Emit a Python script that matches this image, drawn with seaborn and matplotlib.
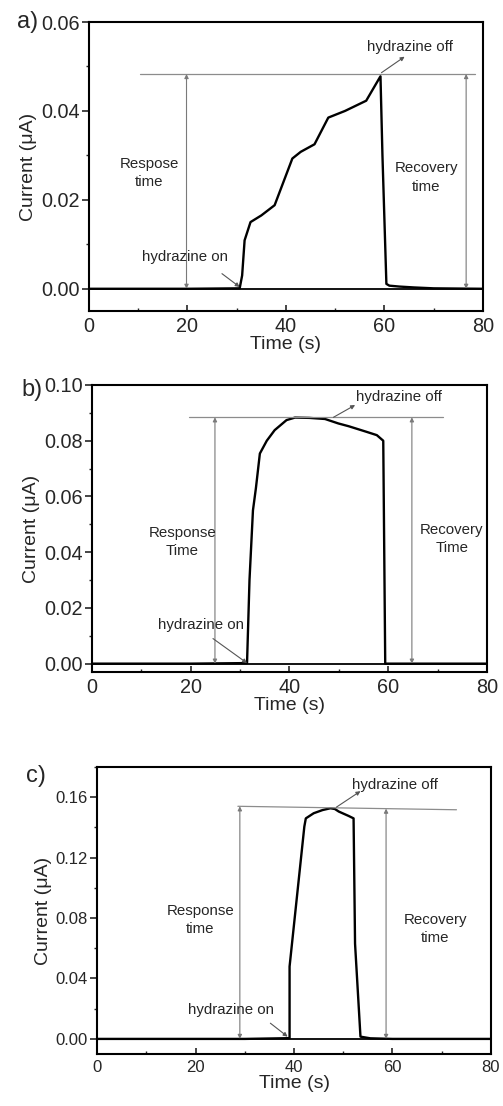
import numpy as np
import pandas as pd
import matplotlib
matplotlib.use('Agg')
import matplotlib.pyplot as plt
import seaborn as sns
from matplotlib.ticker import MultipleLocator, FormatStrFormatter

# panel a) current vs time
time_a = [0, 10, 20, 30.6, 31.1, 31.6, 32.8, 35.0, 37.7, 41.3, 43.0, 45.8, 48.6, 52.0, 56.3, 59.2,
          59.6, 60.4, 61.0, 63.0, 66.0, 70.0, 80.0]
curr_a = [0, 0, 0, 0.0001, 0.003, 0.0109, 0.0150, 0.0165, 0.0188, 0.0293, 0.0308, 0.0325, 0.0385,
          0.0400, 0.0423, 0.0478, 0.0300, 0.0011, 0.0007, 0.0005, 0.0003, 0.0001, 0.0]

# panel b)
time_b = [0, 10, 20, 31.4, 31.9, 32.6, 33.2, 34.0, 35.4, 37.0, 39.4, 41.1, 44.0, 47.2, 49.9,
          52.0, 55.6, 57.7, 59.0, 59.4, 60.0, 70.0, 80.0]
curr_b = [0, 0, 0, 0.0002, 0.030, 0.055, 0.063, 0.0754, 0.0800, 0.0838, 0.0874, 0.0883, 0.0882,
          0.0878, 0.0862, 0.0852, 0.0832, 0.0820, 0.0800, 0.0, 0.0, 0.0, 0.0]

# panel c)
time_c = [0, 10, 20, 30, 39.1, 39.1, 42.1, 42.4, 44.0, 45.8, 47.4, 48.3, 49.1, 51.1, 52.1, 52.4,
          53.5, 55.5, 60.0, 70.0, 80.0]
curr_c = [0, 0, 0, 0, 0.0005, 0.0479, 0.1406, 0.1460, 0.1494, 0.1515, 0.1527, 0.1522, 0.1505,
          0.1476, 0.1460, 0.0630, 0.0015, 0.0004, 0.0, 0.0, 0.0]

# annotation values
level_a = [10.3, 78.5, 0.0483, 0.0483]      # x0, x1, y0, y1 of grey guide line
arrows_a = [19.8, 76.6]
level_b = [19.6, 71.1, 0.0884, 0.0884]
arrows_b = [24.9, 64.8]
level_c = [28.6, 73.0, 0.1540, 0.1517]
arrows_c = [29.0, 58.7]

sns.set_style('ticks')
plt.rcParams['font.family'] = ['Liberation Sans', 'DejaVu Sans']

fig = plt.figure(figsize=(5.03, 11.06), dpi=100)
ax_a = fig.add_axes([0.177, 0.7188, 0.783, 0.2613])
ax_b = fig.add_axes([0.183, 0.3924, 0.785, 0.2595])
ax_c = fig.add_axes([0.193, 0.0470, 0.783, 0.2595])

ann_fs = 10.8
txt_col = '#262626'

panels = [
    (ax_a, time_a, curr_a, level_a, arrows_a, (-0.005, 0.06), 0.02, 0.01, 14.3,
     ('Respose\ntime', 12.2, 0.026), ('Recovery\ntime', 68.5, 0.025),
     ('hydrazine on', 19.5, 0.0071, 27.0, 0.0034, 30.6, 0.0004),
     ('hydrazine off', 65.1, 0.0544, 59.4, 0.0486, 64.1, 0.0522)),
    (ax_b, time_b, curr_b, level_b, arrows_b, (-0.003, 0.10), 0.02, 0.01, 14.3,
     ('Response\nTime', 18.3, 0.0437), ('Recovery\nTime', 72.9, 0.0447),
     ('hydrazine on', 22.0, 0.0138, 24.5, 0.0090, 31.4, 0.0002),
     ('hydrazine off', 62.1, 0.0956, 48.9, 0.0884, 53.3, 0.0928)),
    (ax_c, time_c, curr_c, level_c, arrows_c, (-0.01, 0.18), 0.04, 0.02, 12,
     ('Response\ntime', 21.0, 0.0788), ('Recovery\ntime', 68.7, 0.0726),
     ('hydrazine on', 27.3, 0.0192, 35.2, 0.0104, 38.7, 0.0015),
     ('hydrazine off', 60.6, 0.1680, 48.6, 0.1534, 53.5, 0.1640)),
]

for (ax, t, c, lvl, arr, ylim, ymaj, ymin, fs, resp, reco, on, off) in panels:
    df = pd.DataFrame({'Time': t, 'Current': c})
    sns.lineplot(data=df, x='Time', y='Current', ax=ax, color='black', lw=1.7,
                 sort=False, estimator=None)
    ax.axhline(0, color='black', lw=1.3, zorder=1)

    # grey guide line and the two double arrows
    ax.plot(lvl[:2], lvl[2:], color='#8c8c8c', lw=0.9)
    for xa in arr:
        ytop = np.interp(xa, lvl[:2], lvl[2:])
        ax.annotate('', xy=(xa, 0), xytext=(xa, ytop),
                    arrowprops=dict(arrowstyle='<|-|>', color='#7a7a7a', lw=0.8,
                                    mutation_scale=6, shrinkA=0, shrinkB=0))

    for lab in (resp, reco):
        ax.text(lab[1], lab[2], lab[0], ha='center', va='center', fontsize=ann_fs,
                color=txt_col, linespacing=1.4)
    for lab in (on, off):
        ax.text(lab[1], lab[2], lab[0], ha='center', va='center', fontsize=ann_fs, color=txt_col)
        ax.annotate('', xy=(lab[5], lab[6]), xytext=(lab[3], lab[4]),
                    arrowprops=dict(arrowstyle='-|>', color='#555555', lw=0.8,
                                    mutation_scale=6, shrinkA=0, shrinkB=0))

    ax.set_xlim(0, 80)
    ax.set_ylim(*ylim)
    ax.xaxis.set_major_locator(MultipleLocator(20))
    ax.xaxis.set_minor_locator(MultipleLocator(10))
    ax.yaxis.set_major_locator(MultipleLocator(ymaj))
    ax.yaxis.set_minor_locator(MultipleLocator(ymin))
    ax.yaxis.set_major_formatter(FormatStrFormatter('%.2f'))
    ax.tick_params(axis='x', which='major', direction='in', length=4, width=1.2,
                   labelsize=fs, pad=4)
    ax.tick_params(axis='x', which='minor', direction='in', length=2.5, width=1)
    ax.tick_params(axis='y', which='major', direction='out', length=5, width=1.2,
                   labelsize=fs, pad=1.5)
    ax.tick_params(axis='y', which='minor', direction='out', length=2.5, width=1)
    for sp in ax.spines.values():
        sp.set_linewidth(1.5)
        sp.set_color('black')
    ax.set_xlabel('Time (s)', fontsize=14, labelpad=0)
    ax.set_ylabel('Current (\u03bcA)', fontsize=14, labelpad=3)

# panel tags
fig.text(17 / 503, 1 - 22 / 1106, 'a)', fontsize=17, ha='left', va='center')
fig.text(21 / 503, 1 - 390 / 1106, 'b)', fontsize=17, ha='left', va='center')
fig.text(26 / 503, 1 - 776 / 1106, 'c)', fontsize=17, ha='left', va='center')

fig.savefig('out.png', dpi=100)
